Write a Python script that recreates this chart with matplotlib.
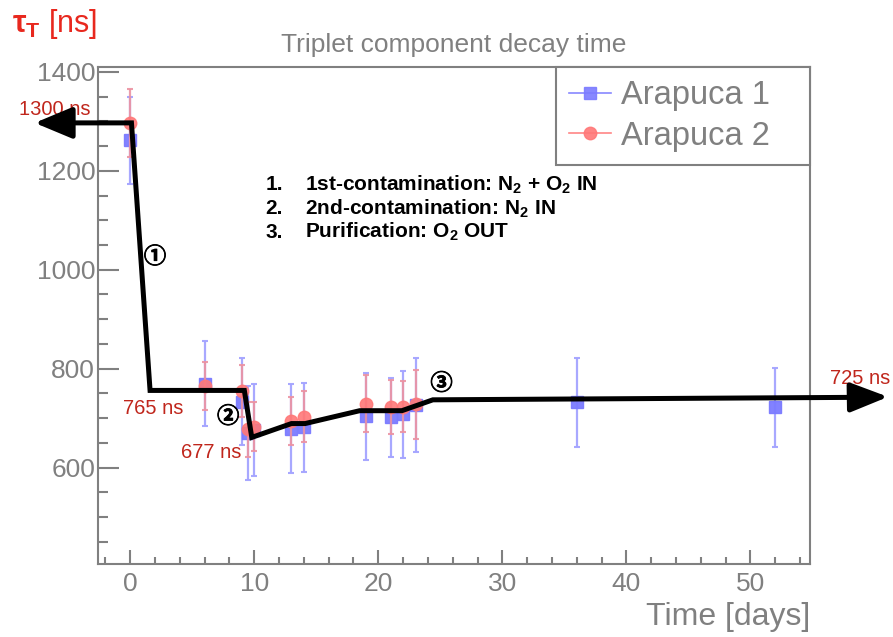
import matplotlib
matplotlib.use("Agg")
import matplotlib.pyplot as plt
import matplotlib.patheffects as pe
from matplotlib.lines import Line2D
from matplotlib.ticker import MultipleLocator

plt.rcParams['font.family'] = ['Liberation Sans', 'DejaVu Sans']
plt.rcParams['mathtext.fontset'] = 'custom'
plt.rcParams['mathtext.rm'] = 'Liberation Sans'
plt.rcParams['mathtext.bf'] = 'Liberation Sans:bold'

# Arapuca 1 (blue squares)
days_1 = [0, 6, 9, 9.5, 10, 13, 14, 19, 21, 22, 23, 36, 52]
tau_1 = [1262, 770, 733, 670, 675, 679, 682, 704, 702, 708, 727, 732, 722]
err_1 = [88, 85, 88, 95, 93, 89, 90, 88, 80, 88, 95, 90, 80]

# Arapuca 2 (red circles)
days_2 = [0, 6, 9, 9.5, 10, 13, 14, 19, 21, 22, 23]
tau_2 = [1297, 765, 755, 677, 683, 694, 703, 729, 722, 723, 728]
err_2 = [68, 48, 52, 55, 50, 48, 52, 58, 55, 52, 70]

# hand-drawn trend line on top of the plot
trend_days = [-5.1, 0.1, 1.6, 9.2, 9.8, 13.0, 14.1, 18.5, 21.9, 24.4, 58.5]
trend_ns = [1297, 1297, 756, 756, 661, 689, 689, 715, 715, 737, 742]
arrow_left_tip = (-7.7, 1297)
arrow_right_tip = (61.1, 743)

steps = ["1.", "2.", "3."]
step_text = [r"1st-contamination: $\mathbf{N_2}$ + $\mathbf{O_2}$ IN",
             r"2nd-contamination: $\mathbf{N_2}$ IN",
             r"Purification: $\mathbf{O_2}$ OUT"]

gray = '#808080'
dark_red = '#c0261c'

fig = plt.figure(figsize=(8.93, 6.37), dpi=100)
ax = fig.add_axes([0.1097, 0.1146, 0.7973, 0.7802])

ax.errorbar(days_1, tau_1, yerr=err_1, fmt='s', color='#7b7bff', ms=8,
            ecolor='#a4a4ff', elinewidth=1.6, capsize=2, capthick=1.5, alpha=0.95, zorder=3)
ax.errorbar(days_2, tau_2, yerr=err_2, fmt='o', color='#ff7878', ms=9,
            ecolor='#ec93a2', elinewidth=1.6, capsize=2, capthick=1.5, alpha=0.9, zorder=4)

ax.set_xlim(-2.6, 54.8)
ax.set_ylim(405, 1410)

# trend line + arrows
ax.plot(trend_days, trend_ns, color='black', lw=3.6, clip_on=False, zorder=6,
        solid_joinstyle='miter')
ax.annotate('', xy=arrow_left_tip, xytext=(trend_days[0], trend_ns[0]),
            arrowprops=dict(arrowstyle='-|>,head_length=1.15,head_width=0.48',
                            color='black', lw=3.6, mutation_scale=20, shrinkA=0, shrinkB=0),
            annotation_clip=False, zorder=6)
ax.annotate('', xy=arrow_right_tip, xytext=(trend_days[-1], trend_ns[-1]),
            arrowprops=dict(arrowstyle='-|>,head_length=1.15,head_width=0.45',
                            color='black', lw=3.6, mutation_scale=20, shrinkA=0, shrinkB=0),
            annotation_clip=False, zorder=6)

# value labels
ax.text(-6.05, 1325, "1300 ns", color=dark_red, fontsize=14.5, ha='center', va='center', clip_on=False)
ax.text(1.85, 720, "765 ns", color=dark_red, fontsize=14.5, ha='center', va='center')
ax.text(6.5, 631, "677 ns", color=dark_red, fontsize=14.5, ha='center', va='center')
ax.text(56.4, 781, "725 ns", color=dark_red, fontsize=14.5, ha='left', va='center', clip_on=False)

# circled step numbers
circ = ['Noto Sans CJK JP', 'DejaVu Sans']
for lab, x, y in [("\u2460", 2.0, 1026), ("\u2461", 7.9, 703), ("\u2462", 25.1, 770)]:
    ax.text(x, y, lab, fontsize=16, fontweight='bold', family=circ,
            ha='center', va='center', zorder=7,
            path_effects=[pe.withStroke(linewidth=0.6, foreground='black')])

# step descriptions
for i, (s, t) in enumerate(zip(steps, step_text)):
    y = 1172 - i * 48
    ax.text(10.9, y, s, fontsize=15, fontweight='bold', ha='left', va='center')
    ax.text(14.1, y, t, fontsize=15, fontweight='bold', ha='left', va='center')

# axes styling (ROOT-like)
for sp in ax.spines.values():
    sp.set_color(gray)
    sp.set_linewidth(1.5)
ax.xaxis.set_major_locator(MultipleLocator(10))
ax.xaxis.set_minor_locator(MultipleLocator(2))
ax.yaxis.set_major_locator(MultipleLocator(200))
ax.yaxis.set_minor_locator(MultipleLocator(50))
ax.tick_params(axis='both', which='both', direction='in', color=gray, width=1.5,
               labelcolor=gray, labelsize=19)
ax.tick_params(axis='y', which='major', length=15, pad=2)
ax.tick_params(axis='y', which='minor', length=7)
ax.tick_params(axis='x', which='major', length=10, pad=6)
ax.tick_params(axis='x', which='minor', length=5)

ax.set_title("Triplet component decay time", color=gray, fontsize=19, pad=11)
ax.set_xlabel("Time [days]", color=gray, fontsize=23, loc='right', labelpad=4)
fig.text(12 / 893, 1 - 24 / 637, r"$\mathbf{\tau_T}$ [ns]", color='#e8281e',
         fontsize=22, ha='left', va='center')

handles = [Line2D([], [], color='#7b7bff', marker='s', ms=8, lw=1.2, alpha=0.9),
           Line2D([], [], color='#ff7878', marker='o', ms=9, lw=1.2, alpha=0.9)]
leg = ax.legend(handles, ["Arapuca 1", "Arapuca 2"], loc='upper left',
                bbox_to_anchor=(0.643, 0.805, 0.357, 0.195), mode='expand',
                borderaxespad=0, fontsize=23.5, handlelength=1.3, handletextpad=0.3,
                labelspacing=0.3, fancybox=False, framealpha=1, labelcolor=gray)
leg.get_frame().set_edgecolor(gray)
leg.get_frame().set_linewidth(1.5)
leg.set_zorder(5)

fig.savefig("out.png", dpi=100)
